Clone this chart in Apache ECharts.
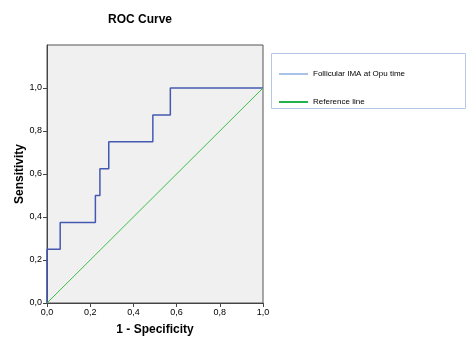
<!DOCTYPE html>
<html>
<head>
<meta charset="utf-8">
<script src="https://cdn.jsdelivr.net/npm/echarts@6/dist/echarts.min.js"></script>
<style>
  html, body { margin: 0; padding: 0; background: #fff; }
  #chart { width: 468px; height: 353px; }
</style>
</head>
<body>
<div id="chart"></div>
<script>
'use strict';

// ROC corners (1 - specificity, sensitivity)
const rocFpr = [0, 0, 0.061, 0.224, 0.245, 0.286, 0.49, 0.571, 1];
const rocTpr = [0, 0.25, 0.375, 0.5, 0.625, 0.75, 0.875, 1, 1];
const refFpr = [0, 1];
const refTpr = [0, 1];
const tickValues = [0, 0.2, 0.4, 0.6, 0.8, 1.0];
const seriesNames = ['Follicular IMA at Opu time', 'Reference line'];

const font = 'Liberation Sans, Arial, sans-serif';

function fmt(v) {
  return Number(v).toFixed(1).replace('.', ',');
}

let chart = echarts.init(document.getElementById('chart'));

chart.setOption({
  animation: false,
  title: {
    text: 'ROC Curve',
    left: 103,
    top: 9,
    textStyle: { fontFamily: font, fontSize: 12, fontWeight: 'bold', color: '#000' }
  },
  grid: {
    left: 47, top: 45, width: 216, height: 258,
    show: true,
    backgroundColor: '#f0f0f0',
    borderColor: '#555',
    borderWidth: 1
  },
  graphic: [{
    type: 'rect',
    shape: { x: 271.5, y: 53.5, width: 194, height: 55 },
    style: { fill: '#fff', stroke: '#b4c8e4', lineWidth: 1 },
    z: 0
  }],
  legend: {
    orient: 'vertical',
    left: 279,
    top: 70,
    padding: 0,
    itemWidth: 29,
    itemHeight: 2,
    itemGap: 20,
    icon: 'rect',
    textStyle: { fontFamily: font, fontSize: 8, color: '#000', padding: [-10, 0, 0, 0] },
    data: [
      { name: seriesNames[0], itemStyle: { color: '#a9c3e8' } },
      { name: seriesNames[1], itemStyle: { color: '#22b14c' } }
    ]
  },
  xAxis: {
    type: 'value',
    min: 0, max: 1, interval: 0.2,
    name: '1 - Specificity',
    nameLocation: 'middle',
    nameGap: 21,
    nameTextStyle: { fontFamily: font, fontSize: 12, fontWeight: 'bold', color: '#000' },
    axisLine: { show: true, lineStyle: { color: '#444' } },
    axisTick: { show: true, length: 4, lineStyle: { color: '#444' } },
    axisLabel: { fontFamily: font, fontSize: 9, color: '#000', margin: 5, formatter: fmt },
    splitLine: { show: false }
  },
  yAxis: {
    type: 'value',
    min: 0, max: 1.2, interval: 0.2,
    name: 'Sensitivity',
    nameLocation: 'middle',
    nameGap: 20,
    nameTextStyle: { fontFamily: font, fontSize: 12, fontWeight: 'bold', color: '#000' },
    axisLine: { show: true, lineStyle: { color: '#444' } },
    axisTick: { show: true, length: 4, lineStyle: { color: '#444' }, customValues: tickValues },
    axisLabel: {
      fontFamily: font, fontSize: 9, color: '#000', margin: 5,
      formatter: fmt, customValues: tickValues
    },
    splitLine: { show: false }
  },
  series: [
    {
      name: seriesNames[0],
      type: 'line',
      step: 'end',
      showSymbol: false,
      data: rocFpr.map(function(x, i) { return [x, rocTpr[i]]; }),
      lineStyle: { color: '#4659b0', width: 1.5 },
      itemStyle: { color: '#a9c3e8' }
    },
    {
      name: seriesNames[1],
      type: 'line',
      showSymbol: false,
      data: refFpr.map(function(x, i) { return [x, refTpr[i]]; }),
      lineStyle: { color: '#3cbf4a', width: 1 },
      itemStyle: { color: '#22b14c' }
    }
  ]
});
</script>
</body>
</html>
